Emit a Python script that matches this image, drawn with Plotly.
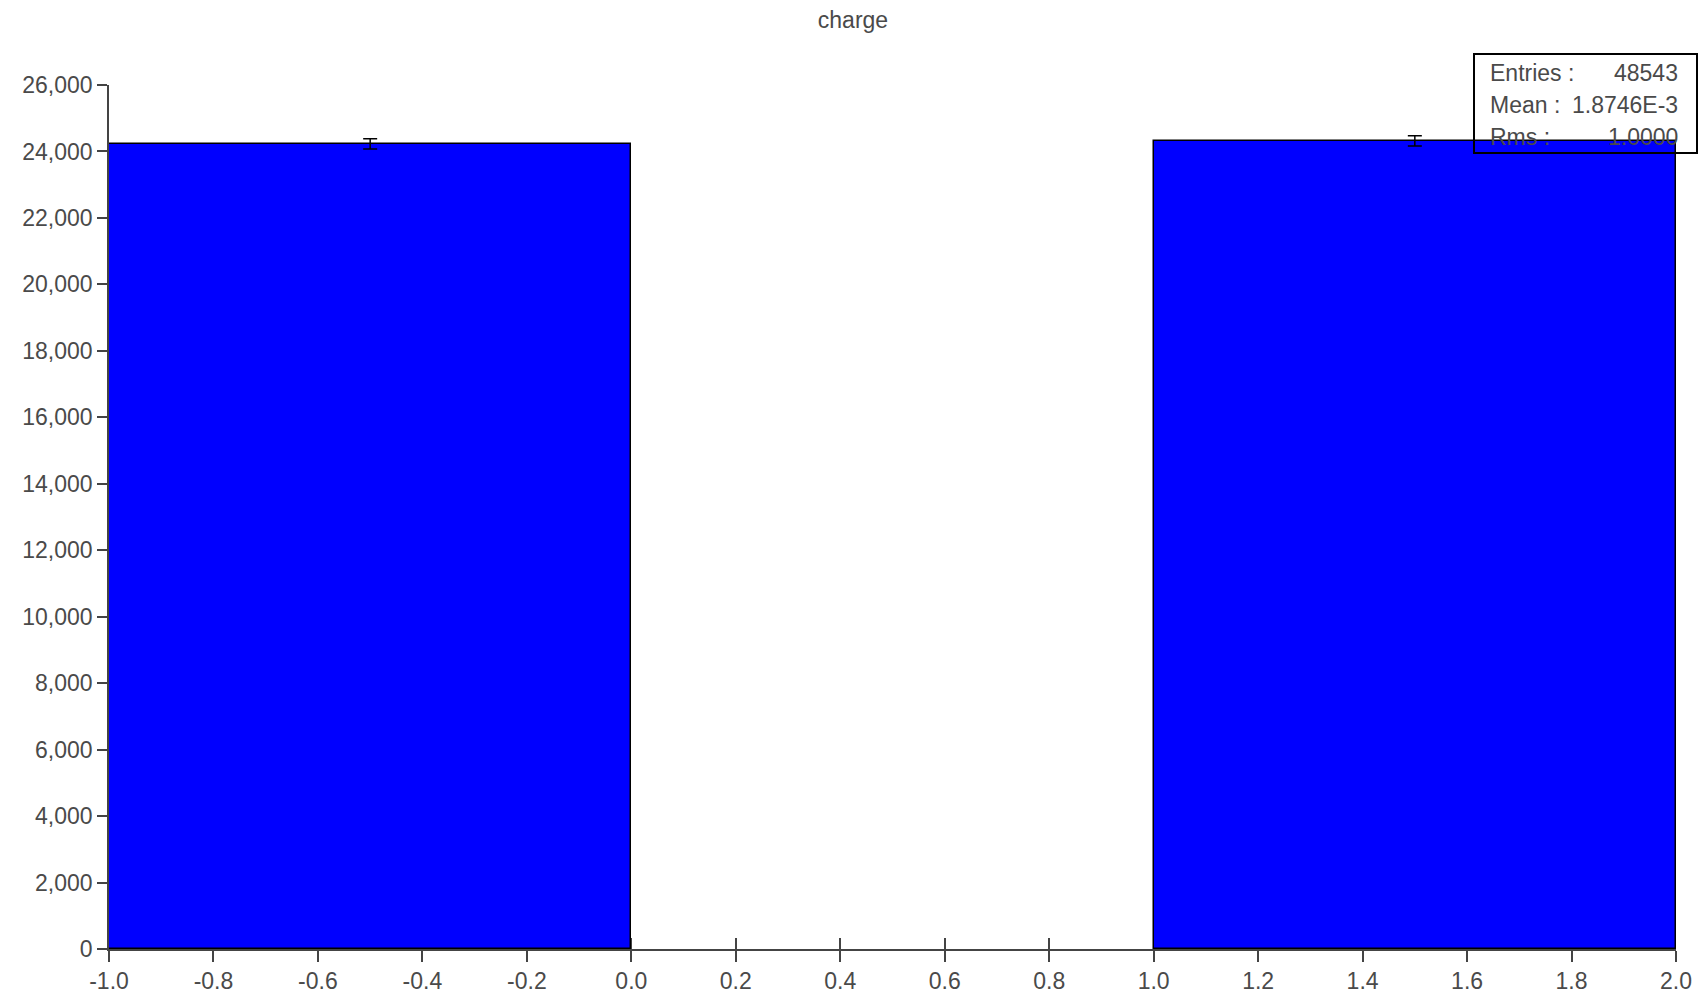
import plotly.graph_objects as go
import math

# Data
bin_centers = [-0.5, 1.5]
bin_width = 1.0
counts = [24226, 24317]
errors = [math.sqrt(c) for c in counts]

x_tickvals = [-1.0, -0.8, -0.6, -0.4, -0.2, 0.0, 0.2, 0.4, 0.6, 0.8, 1.0, 1.2, 1.4, 1.6, 1.8, 2.0]
x_ticktext = ["-1.0", "-0.8", "-0.6", "-0.4", "-0.2", "0.0", "0.2", "0.4", "0.6", "0.8",
              "1.0", "1.2", "1.4", "1.6", "1.8", "2.0"]
y_tickvals = list(range(0, 26001, 2000))
y_ticktext = ["0"] + ["{:,}".format(v) for v in y_tickvals[1:]]

stats_labels = ["Entries :", "Mean :", "Rms :"]
stats_values = ["48543", "1.8746E-3", "1.0000"]

title_text = "charge"

FONT = "Liberation Sans, Arial, sans-serif"
TXT = "#4a4a4a"
AX = "#444444"

fig = go.Figure()
fig.add_trace(go.Bar(
    x=bin_centers, y=counts, width=[bin_width] * len(counts),
    marker=dict(color="#0000FF", line=dict(color="black", width=1.5)),
    error_y=dict(type="data", array=errors, visible=True, color="black", thickness=1.5, width=7),
    showlegend=False, hoverinfo="x+y",
))

# invisible trace on overlay axes so they render
fig.add_trace(go.Scatter(x=[-1, 2], y=[0, 0], xaxis="x2", yaxis="y2", mode="lines",
                         line=dict(width=0), showlegend=False, hoverinfo="skip"))

fig.update_layout(
    width=1706, height=995,
    paper_bgcolor="white", plot_bgcolor="white",
    margin=dict(l=109, r=30, t=85, b=46, autoexpand=False),
    font=dict(family=FONT, size=23, color=TXT),
    title=dict(text=title_text, x=0.5, xref="container", xanchor="center",
               y=1 - 20 / 995, yref="container", yanchor="middle",
               font=dict(family=FONT, size=23, color=TXT)),
    bargap=0,
    xaxis=dict(range=[-1, 2], tickmode="array", tickvals=x_tickvals, ticktext=x_ticktext,
               showgrid=False, zeroline=False, showline=True, linecolor=AX, linewidth=1.5,
               ticks="outside", ticklen=11, tickwidth=1.5, tickcolor=AX,
               tickfont=dict(family=FONT, size=23, color=TXT)),
    yaxis=dict(range=[0, 26000], tickmode="array", tickvals=y_tickvals, ticktext=y_ticktext,
               showgrid=False, zeroline=False, showline=True, linecolor=AX, linewidth=1.5,
               ticks="outside", ticklen=10, tickwidth=1.5, tickcolor=AX,
               tickfont=dict(family=FONT, size=23, color=TXT)),
    xaxis2=dict(range=[-1, 2], overlaying="x", tickmode="array", tickvals=x_tickvals,
                showticklabels=False, showgrid=False, zeroline=False, showline=False,
                ticks="inside", ticklen=11, tickwidth=1.5, tickcolor=AX, layer="below traces",
                anchor="y2"),
    yaxis2=dict(range=[0, 26000], overlaying="y", tickmode="array", tickvals=y_tickvals,
                showticklabels=False, showgrid=False, zeroline=False, showline=False,
                ticks="inside", ticklen=10, tickwidth=1.5, tickcolor=AX, layer="below traces",
                anchor="x2"),
)

# Stats box
px0, px1 = 109, 1676
py0, py1 = 85, 949


def xp(px):
    return (px - px0) / (px1 - px0)


def yp(py):
    return (py1 - py) / (py1 - py0)


fig.add_shape(type="rect", xref="paper", yref="paper",
              x0=xp(1474), x1=xp(1697), y0=yp(153), y1=yp(54),
              line=dict(color="black", width=2), fillcolor="rgba(0,0,0,0)", layer="above")

line_y = [73, 105, 137]
for lab, val, ly in zip(stats_labels, stats_values, line_y):
    fig.add_annotation(text=lab, xref="paper", yref="paper", x=xp(1488), y=yp(ly),
                       xanchor="left", yanchor="middle", showarrow=False,
                       font=dict(family=FONT, size=23, color=TXT))
    fig.add_annotation(text=val, xref="paper", yref="paper", x=xp(1680), y=yp(ly),
                       xanchor="right", yanchor="middle", showarrow=False,
                       font=dict(family=FONT, size=23, color=TXT))

fig.write_html(
    "out.html",
    config={"displayModeBar": False},
    post_script="document.documentElement.style.margin='0';document.body.style.margin='0';"
                "document.body.style.padding='0';document.body.style.overflow='hidden';",
)
